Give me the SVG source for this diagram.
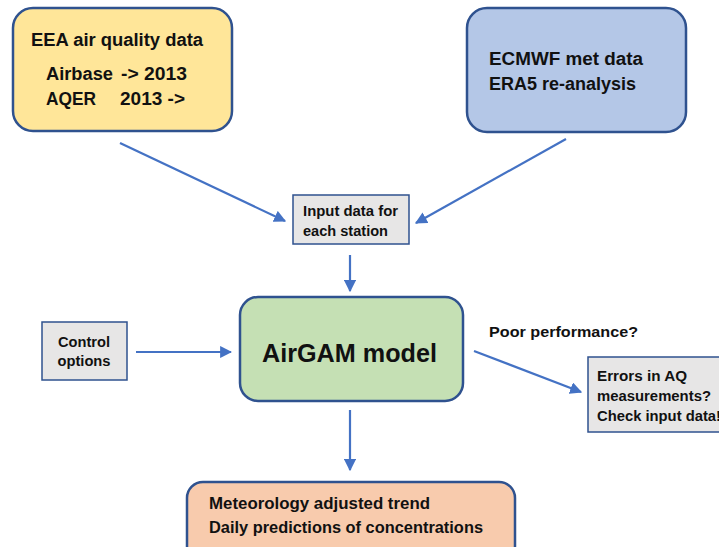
<svg xmlns="http://www.w3.org/2000/svg" width="719" height="547" viewBox="0 0 719 547">
<style>
text{font-family:"Liberation Sans","Open Sans",sans-serif;font-weight:bold;fill:#111;}
.box{stroke:#2F528F;stroke-width:2.5;}
.sbox{stroke:#2F528F;stroke-width:1.5;fill:#E7E6E6;}
.arr{stroke:#4472C4;stroke-width:2.2;fill:none;marker-end:url(#ah);}
</style>
<defs>
<marker id="ah" viewBox="0 0 10 10" refX="9" refY="5" markerWidth="5.5" markerHeight="5.5" orient="auto" markerUnits="strokeWidth">
<path d="M0,0 L10,5 L0,10 z" fill="#4472C4"/>
</marker>
</defs>
<rect width="719" height="547" fill="#fff"/>
<g id="connectors">
<line class="arr" x1="120" y1="143" x2="285" y2="221"/>
<line class="arr" x1="566" y1="139" x2="416" y2="223"/>
<line class="arr" x1="350" y1="255" x2="350" y2="291"/>
<line class="arr" x1="136" y1="352" x2="231" y2="352"/>
<line class="arr" x1="474" y1="351" x2="581" y2="392"/>
<line class="arr" x1="350" y1="410" x2="350" y2="470"/>
</g>
<g id="eea">
<rect class="box" x="13" y="8" width="219" height="123" rx="20" fill="#FFE699"/>
<text x="31" y="46" font-size="18" textLength="172" lengthAdjust="spacingAndGlyphs">EEA air quality data</text>
<text x="46" y="80" font-size="18" textLength="67" lengthAdjust="spacingAndGlyphs">Airbase</text>
<text x="121" y="80" font-size="18" textLength="66" lengthAdjust="spacingAndGlyphs">-&gt; 2013</text>
<text x="46" y="105" font-size="18" textLength="50" lengthAdjust="spacingAndGlyphs">AQER</text>
<text x="120" y="105" font-size="18" textLength="65" lengthAdjust="spacingAndGlyphs">2013 -&gt;</text>
</g>
<g id="ecmwf">
<rect class="box" x="467" y="8" width="219" height="124" rx="20" fill="#B4C7E7"/>
<text x="489" y="65" font-size="18" textLength="154" lengthAdjust="spacingAndGlyphs">ECMWF met data</text>
<text x="489" y="90" font-size="18" textLength="147" lengthAdjust="spacingAndGlyphs">ERA5 re-analysis</text>
</g>
<g id="input">
<rect class="sbox" x="293" y="195" width="116" height="49"/>
<text x="303" y="216" font-size="14" textLength="95" lengthAdjust="spacingAndGlyphs">Input data for</text>
<text x="303" y="236" font-size="14" textLength="85" lengthAdjust="spacingAndGlyphs">each station</text>
</g>
<g id="control">
<rect class="sbox" x="42" y="322" width="85" height="58"/>
<text x="84" y="347" font-size="14" text-anchor="middle" textLength="52" lengthAdjust="spacingAndGlyphs">Control</text>
<text x="84" y="366" font-size="14" text-anchor="middle" textLength="53" lengthAdjust="spacingAndGlyphs">options</text>
</g>
<g id="airgam">
<rect class="box" x="240" y="297" width="223" height="104" rx="18" fill="#C5E0B4"/>
<text x="262" y="362" font-size="26" textLength="175" lengthAdjust="spacingAndGlyphs">AirGAM model</text>
</g>
<g id="poor">
<text x="489" y="337" font-size="14" textLength="149" lengthAdjust="spacingAndGlyphs">Poor performance?</text>
</g>
<g id="errors">
<rect class="sbox" x="588" y="357" width="140" height="75"/>
<text x="597" y="381" font-size="14" textLength="90" lengthAdjust="spacingAndGlyphs">Errors in AQ</text>
<text x="597" y="401" font-size="14" textLength="114" lengthAdjust="spacingAndGlyphs">measurements?</text>
<text x="597" y="421" font-size="14" textLength="124" lengthAdjust="spacingAndGlyphs">Check input data!</text>
</g>
<g id="result">
<rect class="box" x="187" y="482" width="328" height="80" rx="16" fill="#F8CBAD"/>
<text x="209" y="509" font-size="17" textLength="221" lengthAdjust="spacingAndGlyphs">Meteorology adjusted trend</text>
<text x="209" y="533" font-size="17" textLength="274" lengthAdjust="spacingAndGlyphs">Daily predictions of concentrations</text>
</g>
</svg>
